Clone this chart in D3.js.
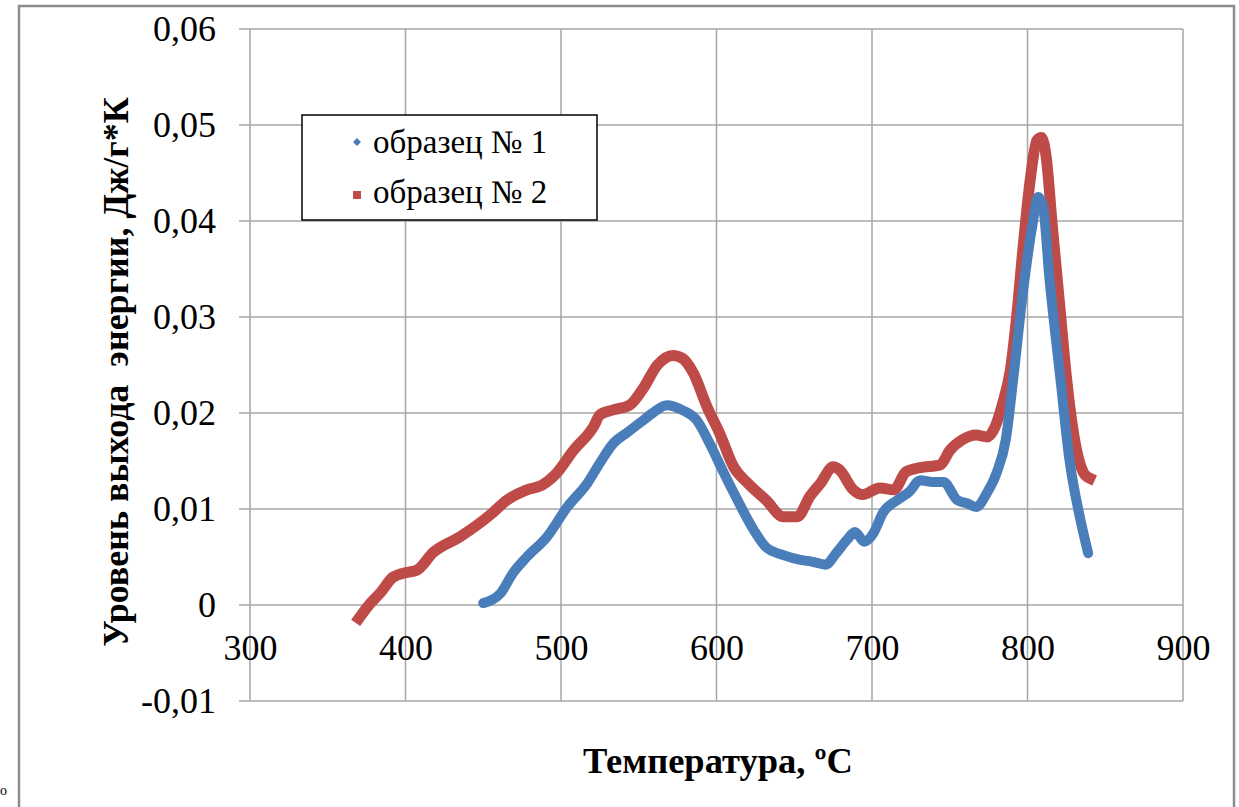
<!DOCTYPE html>
<html>
<head>
<meta charset="utf-8">
<script src="https://cdn.jsdelivr.net/npm/d3@7"></script>
<style>
  body { margin: 0; background: #fff; }
  text { font-family: "Liberation Serif", "Times New Roman", serif; }
</style>
</head>
<body>
<script>

// Sample 1 (blue): temperature and energy level
var temp1 = [450, 461, 469, 478, 491, 504, 517, 525, 534, 542,
             551, 559, 568, 578, 587, 596, 604, 613, 624, 632,
             643, 654, 662, 670, 677, 684, 689, 695, 701, 707,
             716, 724, 731, 739, 746, 755, 761, 767, 774, 780,
             786, 791, 797, 803, 807, 810, 814, 821, 827, 834, 839]
var energy1 = [0.0002, 0.0012, 0.0033, 0.0050, 0.0071, 0.0102, 0.0127, 0.0148, 0.0169, 0.0179,
               0.0190, 0.0200, 0.0208, 0.0203, 0.0193, 0.0167, 0.0140, 0.0111, 0.0078, 0.0060,
               0.0052, 0.0047, 0.0045, 0.0042, 0.0054, 0.0068, 0.0076, 0.0066, 0.0075, 0.0096,
               0.0109, 0.0118, 0.0130, 0.0128, 0.0128, 0.0109, 0.0106, 0.0102, 0.0117, 0.0137,
               0.0172, 0.0238, 0.0325, 0.0394, 0.0425, 0.0415, 0.0342, 0.0238, 0.0151, 0.0089, 0.0054]

// Sample 2 (red)
var temp2 = [370, 376, 384, 392, 401, 407, 418, 435, 456, 465,
             478, 488, 497, 508, 521, 525, 533, 544, 553, 562,
             572, 578, 585, 594, 602, 611, 620, 632, 643, 652,
             660, 667, 675, 679, 688, 694, 705, 714, 722, 731,
             744, 750, 758, 767, 774, 779, 784, 789, 793, 797,
             802, 806, 809, 812, 816, 821, 825, 830, 836, 840]
var energy2 = [-0.0014, -0.0001, 0.0013, 0.0029, 0.0034, 0.0036, 0.0055, 0.0071, 0.0096, 0.0109,
               0.0120, 0.0125, 0.0137, 0.0161, 0.0186, 0.0198, 0.0203, 0.0208, 0.0226, 0.0250,
               0.0260, 0.0257, 0.0242, 0.0206, 0.0179, 0.0144, 0.0127, 0.0109, 0.0092, 0.0092,
               0.0113, 0.0127, 0.0144, 0.0141, 0.0120, 0.0115, 0.0122, 0.0120, 0.0139, 0.0143,
               0.0146, 0.0161, 0.0172, 0.0177, 0.0175, 0.0185, 0.0210, 0.0245, 0.0300, 0.0370,
               0.0446, 0.0484, 0.0487, 0.0467, 0.0394, 0.0307, 0.0238, 0.0175, 0.0138, 0.0132]

// Axis ticks and labels
var xTicks = [300, 400, 500, 600, 700, 800, 900]
var yTicks = [-0.01, 0, 0.01, 0.02, 0.03, 0.04, 0.05, 0.06]
var seriesNames = ["образец № 1", "образец № 2"]
var xTitle = "Температура, ºC"
var yTitle = "Уровень выхода  энергии, Дж/г*К"

// Size and plot area
var svgW = 1239
var svgH = 807
var plotLeft = 250
var plotRight = 1183
var plotTop = 29
var plotBottom = 701
var gridColor = "#a6a6a6"
var colors = ["#4a7ebb", "#be4b48"]

// Scales
var xScale = d3.scaleLinear().domain([300, 900]).range([plotLeft, plotRight])
var yScale = d3.scaleLinear().domain([-0.01, 0.06]).range([plotBottom, plotTop])

// Russian number format: comma decimal, plain minus
var ru = d3.formatLocale({decimal: ",", thousands: " ", grouping: [3], currency: ["", ""], minus: "-"})
var fmt = function(d) { return d === 0 ? "0" : ru.format(".2f")(d) }

var svg = d3.select("body")
            .append("svg")
            .attr("width", svgW)
            .attr("height", svgH)

// Outer chart frame
svg.append("rect")
   .attr("x", 19)
   .attr("y", 6)
   .attr("width", 1215)
   .attr("height", 900)
   .style("fill", "white")
   .style("stroke", "#8c8c8c")
   .style("stroke-width", 2.5)

// Horizontal gridlines (with short ticks left of the axis)
svg.selectAll(".hgrid")
   .data(yTicks)
   .enter()
   .append("line")
     .attr("class", "hgrid")
     .attr("x1", plotLeft - 11)
     .attr("x2", plotRight)
     .attr("y1", function(d) { return yScale(d) })
     .attr("y2", function(d) { return yScale(d) })
     .style("stroke", gridColor)
     .style("stroke-width", 1.5)

// Vertical gridlines
svg.selectAll(".vgrid")
   .data(xTicks)
   .enter()
   .append("line")
     .attr("class", "vgrid")
     .attr("x1", function(d) { return xScale(d) })
     .attr("x2", function(d) { return xScale(d) })
     .attr("y1", plotTop)
     .attr("y2", plotBottom)
     .style("stroke", gridColor)
     .style("stroke-width", 1.5)

// Y tick labels
var yAxis = d3.axisLeft(yScale).tickValues(yTicks).tickFormat(fmt).tickSize(0).tickPadding(34)
var yG = svg.append("g")
            .attr("transform", "translate(" + plotLeft + ",0)")
            .call(yAxis)
yG.select(".domain").remove()
yG.selectAll("text")
  .style("font-family", "Liberation Serif")
  .style("font-size", "36px")
  .attr("fill", "#000")

// X tick labels, under the zero line
var xAxis = d3.axisBottom(xScale).tickValues(xTicks).tickSize(0).tickPadding(0)
var xG = svg.append("g")
            .attr("transform", "translate(0," + yScale(0) + ")")
            .call(xAxis)
xG.select(".domain").remove()
xG.selectAll("text")
  .attr("dy", null)
  .attr("y", 55)
  .style("font-family", "Liberation Serif")
  .style("font-size", "36px")
  .attr("fill", "#000")

// Series lines
var line = d3.line()
             .x(function(d) { return xScale(d[0]) })
             .y(function(d) { return yScale(d[1]) })
             .curve(d3.curveMonotoneX)

var series1 = d3.zip(temp1, energy1)
var series2 = d3.zip(temp2, energy2)

// red first, blue sits on top where they cross
svg.append("path")
   .datum(series2)
   .attr("d", line)
   .style("fill", "none")
   .style("stroke", colors[1])
   .style("stroke-width", 11)
   .style("stroke-linecap", "square")
   .style("stroke-linejoin", "round")

svg.append("path")
   .datum(series1)
   .attr("d", line)
   .style("fill", "none")
   .style("stroke", colors[0])
   .style("stroke-width", 10)
   .style("stroke-linecap", "round")
   .style("stroke-linejoin", "round")

// Legend
var legend = svg.append("g").attr("transform", "translate(302,115)")
legend.append("rect")
      .attr("width", 295)
      .attr("height", 105)
      .style("fill", "white")
      .style("stroke", "#000")
      .style("stroke-width", 1.5)

legend.append("path")
      .attr("d", d3.symbol().type(d3.symbolDiamond2).size(40))
      .attr("transform", "translate(55,27)")
      .style("fill", colors[0])
legend.append("rect")
      .attr("x", 51)
      .attr("y", 76)
      .attr("width", 8)
      .attr("height", 8)
      .style("fill", colors[1])

legend.selectAll(".legendLabel")
      .data(seriesNames)
      .enter()
      .append("text")
        .attr("class", "legendLabel")
        .attr("x", 71)
        .attr("y", function(d, i) { return 38 + 50 * i })
        .style("font-size", "33px")
        .text(function(d) { return d })

// Axis titles
svg.append("text")
   .attr("x", 718)
   .attr("y", 773)
   .style("text-anchor", "middle")
   .style("font-size", "36.5px")
   .style("font-weight", "bold")
   .text(xTitle)

svg.append("text")
   .attr("transform", "translate(128,372) rotate(-90)")
   .style("text-anchor", "middle")
   .style("font-size", "36px")
   .style("font-weight", "bold")
   .style("white-space", "pre")
   .text(yTitle)

// Stray mark at the lower left edge
svg.append("text")
   .attr("x", 0)
   .attr("y", 795)
   .style("font-size", "14px")
   .text("о")

</script>
</body>
</html>
